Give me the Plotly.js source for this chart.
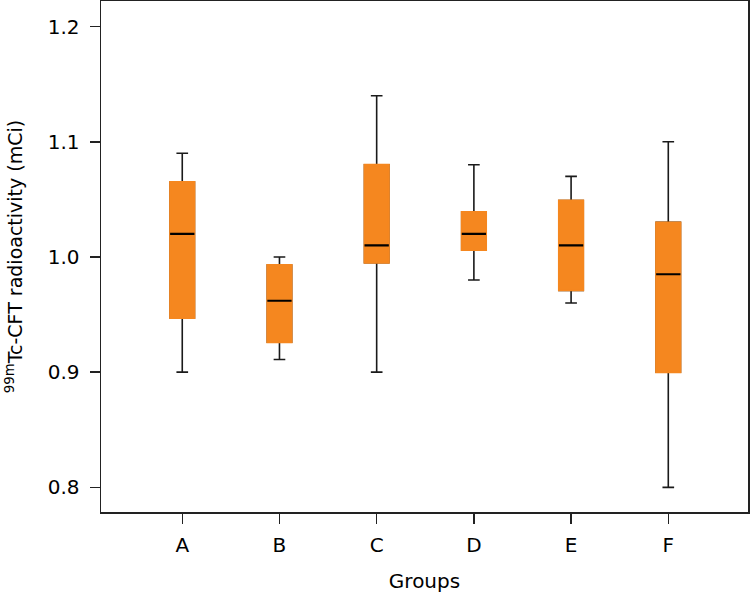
<!DOCTYPE html>
<html>
<head>
<meta charset="utf-8">
<script src="https://cdn.plot.ly/plotly-3.0.1.min.js"></script>
<style>html,body{margin:0;padding:0;background:#fff;}#chart{width:750px;height:601px;}</style>
</head>
<body>
<div id="chart"></div>
<script>
const groups = ['A', 'B', 'C', 'D', 'E', 'F'];
const lowerWhisker = [0.900, 0.911, 0.900, 0.980, 0.960, 0.800];
const q1Values = [0.947, 0.926, 0.995, 1.006, 0.971, 0.900];
const medianValues = [1.020, 0.962, 1.010, 1.020, 1.010, 0.985];
const q3Values = [1.065, 0.993, 1.080, 1.039, 1.049, 1.030];
const upperWhisker = [1.090, 1.000, 1.140, 1.080, 1.070, 1.100];
const yTickValues = [0.8, 0.9, 1.0, 1.1, 1.2];
const yTickLabels = ['0.8', '0.9', '1.0', '1.1', '1.2'];

const orange = '#F5871F';
const boxWidth = 0.25;

// Whiskers and caps (black)
const whiskerTrace = {
  type: 'box', x: groups,
  q1: q1Values, median: medianValues, q3: q3Values,
  lowerfence: lowerWhisker, upperfence: upperWhisker,
  boxpoints: false, width: boxWidth, whiskerwidth: 0.48,
  fillcolor: orange, line: {color: '#1a1a1a', width: 1.6},
  hoverinfo: 'skip', showlegend: false
};
// Orange box body (hides black border)
const bodyTrace = {
  type: 'box', x: groups,
  q1: q1Values, median: q3Values, q3: q3Values,
  lowerfence: q1Values, upperfence: q3Values,
  boxpoints: false, width: boxWidth, whiskerwidth: 0,
  fillcolor: orange, line: {color: orange, width: 2},
  hoverinfo: 'skip', showlegend: false
};
// Median line (black)
const medianTrace = {
  type: 'box', x: groups,
  q1: medianValues, median: medianValues, q3: medianValues,
  lowerfence: medianValues, upperfence: medianValues,
  boxpoints: false, width: boxWidth, whiskerwidth: 0,
  fillcolor: 'rgba(0,0,0,0)', line: {color: '#000', width: 2.2},
  hoverinfo: 'skip', showlegend: false
};

const font = 'DejaVu Sans, Verdana, sans-serif';
const layout = {
  width: 750, height: 601,
  margin: {l: 101, r: 2, t: 1, b: 89},
  paper_bgcolor: '#fff', plot_bgcolor: '#fff',
  boxmode: 'overlay',
  font: {family: font, color: '#000', size: 20},
  xaxis: {
    type: 'category', categoryorder: 'array', categoryarray: groups,
    range: [-0.836, 5.82],
    showline: true, mirror: true, linecolor: '#222', linewidth: 1.5,
    ticks: 'outside', ticklen: 10, tickwidth: 1.5, tickcolor: '#222',
    showgrid: false, zeroline: false,
    tickfont: {size: 20}, ticklabelstandoff: 4,
    title: {text: 'Groups', font: {size: 20}, standoff: 18}
  },
  yaxis: {
    range: [0.7786, 1.2222],
    tickvals: yTickValues, ticktext: yTickLabels,
    showline: true, mirror: true, linecolor: '#222', linewidth: 1.5,
    ticks: 'outside', ticklen: 10, tickwidth: 1.5, tickcolor: '#222',
    showgrid: false, zeroline: false,
    tickfont: {size: 20}, ticklabelstandoff: 6,
    title: {text: '<sup>99m</sup>Tc-CFT radioactivity (mCi)', font: {size: 19}, standoff: 20}
  }
};

Plotly.newPlot('chart', [whiskerTrace, bodyTrace, medianTrace], layout, {staticPlot: true, displayModeBar: false});
</script>
</body>
</html>
